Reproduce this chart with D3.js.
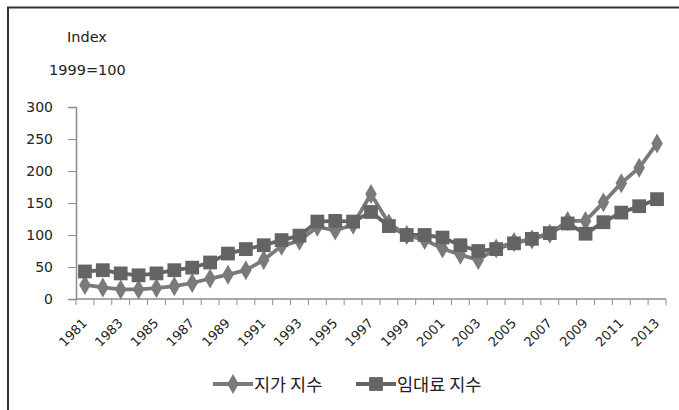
<!DOCTYPE html>
<html>
<head>
<meta charset="utf-8">
<script src="https://cdn.jsdelivr.net/npm/d3@7"></script>
<style>
  body { margin: 0; background: #fff; }
  svg { display: block; font-family: "Noto Sans CJK KR", "Noto Sans", sans-serif; }
</style>
</head>
<body>
<svg id="chart"></svg>
<script>
const width = 679;
const height = 410;

// years on the x axis
const years = d3.range(1981, 2014);
const yTicks = [0, 50, 100, 150, 200, 250, 300];

// 지가 지수 (land price index)
const landIndex = [22, 18, 15, 15, 17, 20, 25, 32, 38, 45, 61, 83, 91, 113, 107, 116, 164, 118, 100, 92,
                   79, 69, 61, 79, 89, 93, 102, 122, 122, 151, 181, 205, 243];
// 임대료 지수 (rent index)
const rentIndex = [43, 45, 40, 37, 40, 45, 49, 57, 71, 78, 84, 92, 99, 121, 122, 121, 136, 114, 100, 100,
                   96, 84, 75, 78, 87, 94, 103, 118, 102, 120, 135, 145, 156];

const seriesNames = ["지가 지수", "임대료 지수"];

const margin = { left: 76, right: 13, top: 107, bottom: 111 };
const numFont = "'DejaVu Sans', sans-serif";

const svg = d3.select("#chart")
    .attr("width", width)
    .attr("height", height);

// frame (only top and left edges show in the crop)
svg.append("path")
    .attr("d", `M8,${height} V7.5 H${width}`)
    .attr("fill", "none")
    .attr("stroke", "#333")
    .attr("stroke-width", 2);

const x = d3.scaleBand()
    .domain(years)
    .range([margin.left, width - margin.right]);

const y = d3.scaleLinear()
    .domain([0, 300])
    .range([height - margin.bottom, margin.top]);

const axisColor = "#8c8c8c";

// y axis
const yAxis = svg.append("g")
    .attr("transform", `translate(${margin.left},0)`)
    .call(d3.axisLeft(y).tickValues(yTicks).tickSize(8).tickPadding(15));
yAxis.select(".domain").attr("stroke", axisColor).attr("stroke-width", 1.5);
yAxis.selectAll(".tick line").attr("stroke", axisColor);
yAxis.selectAll(".tick text")
    .attr("fill", "#222")
    .attr("font-size", 14)
    .attr("font-family", numFont);

// x axis: ticks on band boundaries, labels rotated
const xAxisG = svg.append("g")
    .attr("transform", `translate(0,${y(0)})`);
xAxisG.append("line")
    .attr("x1", margin.left).attr("x2", width - margin.right)
    .attr("stroke", axisColor).attr("stroke-width", 1.5);
xAxisG.selectAll(".tk")
    .data(years.concat([2014]))
    .join("line")
    .attr("x1", d => d === 2014 ? x.range()[1] : x(d))
    .attr("x2", d => d === 2014 ? x.range()[1] : x(d))
    .attr("y2", 6)
    .attr("stroke", axisColor);
xAxisG.selectAll(".lbl")
    .data(years.filter((d, i) => i % 2 === 0))
    .join("text")
    .attr("transform", d => `translate(${x(d) + x.bandwidth() / 2 + 3},${25}) rotate(-45)`)
    .attr("text-anchor", "end")
    .attr("font-size", 13)
    .attr("font-family", numFont)
    .attr("fill", "#222")
    .text(d => d);

// axis title
svg.append("text")
    .attr("x", 67).attr("y", 42)
    .attr("font-size", 14.5)
    .attr("font-family", numFont)
    .attr("fill", "#222")
    .text("Index");
svg.append("text")
    .attr("x", 49).attr("y", 75)
    .attr("font-size", 14.5)
    .attr("font-family", numFont)
    .attr("fill", "#222")
    .text("1999=100");

const cx = d => x(d) + x.bandwidth() / 2;
const line = d3.line()
    .x((d, i) => cx(years[i]))
    .y(d => y(d));

const landColor = "#7a7a7a";
const rentColor = "#646464";

const diamond = d3.symbol().type(d3.symbolDiamond).size(115);
const square = d3.symbol().type(d3.symbolSquare).size(190);

// rent series (drawn first, land on top)
svg.append("path")
    .datum(rentIndex)
    .attr("d", line)
    .attr("fill", "none")
    .attr("stroke", rentColor)
    .attr("stroke-width", 3.8);
svg.append("path")
    .datum(landIndex)
    .attr("d", line)
    .attr("fill", "none")
    .attr("stroke", landColor)
    .attr("stroke-width", 3.8);

svg.append("g").selectAll("path")
    .data(landIndex)
    .join("path")
    .attr("transform", (d, i) => `translate(${cx(years[i])},${y(d)})`)
    .attr("d", diamond)
    .attr("fill", landColor);

svg.append("g").selectAll("path")
    .data(rentIndex)
    .join("path")
    .attr("transform", (d, i) => `translate(${cx(years[i])},${y(d)})`)
    .attr("d", square)
    .attr("fill", rentColor);

// legend
const legend = svg.append("g").attr("transform", "translate(0,384)");
const legItems = [
    { name: seriesNames[0], color: landColor, sym: diamond, x0: 213 },
    { name: seriesNames[1], color: rentColor, sym: square, x0: 356 }
];
legItems.forEach(it => {
    legend.append("line")
        .attr("x1", it.x0).attr("x2", it.x0 + 40)
        .attr("stroke", it.color).attr("stroke-width", 3.8);
    legend.append("path")
        .attr("transform", `translate(${it.x0 + 20},0)`)
        .attr("d", it.sym)
        .attr("fill", it.color);
    legend.append("text")
        .attr("x", it.x0 + 41).attr("y", 6.5)
        .attr("font-size", 17.5)
        .attr("fill", "#222")
        .text(it.name);
});
</script>
</body>
</html>
